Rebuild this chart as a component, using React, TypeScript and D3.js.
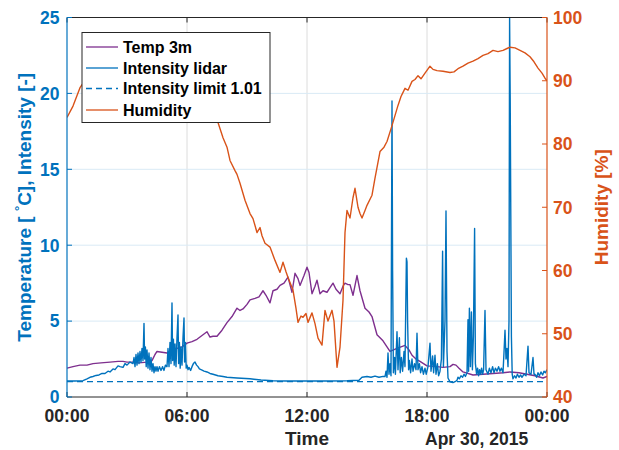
import React from 'react';
import * as d3 from 'd3';

// ---- data (time in hours since 00:00, Apr 29 -> Apr 30, 2015) ----
const xTicks = [0, 6, 12, 18, 24];
const xTickLabels = ['00:00', '06:00', '12:00', '18:00', '00:00'];
const yLeftTicks = [0, 5, 10, 15, 20, 25];
const yRightTicks = [40, 50, 60, 70, 80, 90, 100];
const intensityLimit = 1.01;
const legendLabels = ['Temp 3m', 'Intensity lidar', 'Intensity limit 1.01', 'Humidity'];

const temp3m: [number, number][] = [
  [0, 1.9], [0.3, 2.0], [0.65, 2.1], [1.0, 2.1], [1.3, 2.2], [1.7, 2.25], [2.15, 2.3], [2.55, 2.35],
  [2.8, 2.35], [3.0, 2.3], [3.3, 2.3], [3.6, 2.25], [4.0, 2.3], [4.25, 2.4], [4.4, 2.8], [4.5, 3.0],
  [4.75, 2.95], [5.0, 2.9], [5.25, 3.1], [5.5, 3.2], [5.75, 3.3], [6.0, 3.55], [6.25, 3.65], [6.5, 3.8],
  [6.8, 4.1], [7.0, 4.3], [7.15, 3.95], [7.3, 4.0], [7.5, 4.0], [7.75, 4.4], [8.0, 4.9], [8.25, 5.3],
  [8.5, 5.85], [8.65, 5.7], [8.8, 5.8], [9.0, 6.1], [9.15, 6.4], [9.4, 6.5], [9.6, 6.6], [9.8, 7.0],
  [9.95, 6.7], [10.15, 6.2], [10.3, 7.0], [10.5, 7.1], [10.65, 7.35], [10.85, 7.5], [11.05, 7.9],
  [11.25, 6.9], [11.4, 8.15], [11.55, 7.8], [11.65, 7.35], [11.85, 8.0], [12.0, 8.55], [12.1, 8.2],
  [12.25, 6.8], [12.4, 7.3], [12.5, 7.7], [12.65, 6.8], [12.8, 7.0], [13.0, 6.9], [13.15, 7.2],
  [13.3, 7.5], [13.45, 7.1], [13.65, 6.8], [13.8, 7.3], [13.9, 7.5], [14.05, 7.4], [14.15, 7.4],
  [14.3, 6.7], [14.5, 8.0], [14.65, 7.0], [14.9, 5.85], [15.1, 5.6], [15.25, 5.3], [15.5, 4.1],
  [15.8, 3.7], [16.0, 3.3], [16.15, 3.0], [16.5, 3.2], [16.9, 3.4], [17.1, 3.1], [17.25, 2.75],
  [17.45, 2.5], [17.65, 2.35], [18.0, 2.05], [18.5, 2.0], [18.8, 1.95], [19.15, 2.0], [19.3, 2.15],
  [19.45, 2.1], [19.6, 1.9], [19.8, 1.65], [20.3, 1.45], [20.8, 1.5], [21.3, 1.55], [21.8, 1.6],
  [22.15, 1.65], [22.6, 1.6], [23.0, 1.5], [23.4, 1.4], [23.8, 1.25], [24, 1.35],
];

const intensityLidar: [number, number][] = [
  [0, 1.05], [0.4, 1.05], [0.8, 1.08], [1.0, 1.2], [1.15, 1.3], [1.3, 1.35], [1.45, 1.42], [1.6, 1.45],
  [1.75, 1.55], [1.9, 1.55], [2.05, 1.7], [2.15, 1.65], [2.3, 1.85], [2.4, 1.8], [2.55, 2.05], [2.65, 2.0],
  [2.8, 1.95], [2.9, 2.2], [3.0, 2.1], [3.15, 2.3], [3.3, 2.2], [3.35, 2.6], [3.4, 2.0],
  [3.45, 2.8], [3.5, 2.1], [3.55, 2.9], [3.6, 2.2], [3.65, 3.0], [3.7, 2.3], [3.75, 3.2], [3.8, 2.4],
  [3.85, 4.85], [3.88, 2.5], [3.92, 3.3], [3.96, 2.0], [4.0, 3.1], [4.05, 1.9], [4.1, 2.9], [4.15, 1.8],
  [4.2, 2.6], [4.25, 1.7], [4.3, 2.2], [4.35, 1.6], [4.4, 2.0], [4.45, 1.7], [4.5, 2.0], [4.55, 1.7],
  [4.62, 2.0], [4.7, 1.75], [4.78, 2.0], [4.85, 1.75], [4.92, 2.1], [5.0, 2.0], [5.05, 3.2], [5.1, 2.0],
  [5.15, 3.6], [5.2, 2.2], [5.25, 6.2], [5.28, 2.4], [5.32, 3.8],
  [5.36, 2.1], [5.4, 3.5], [5.45, 2.0], [5.5, 3.9], [5.55, 5.4], [5.58, 2.2], [5.62, 3.6], [5.66, 1.9],
  [5.7, 3.3], [5.75, 2.1], [5.8, 3.9], [5.85, 5.2], [5.88, 2.3], [5.92, 3.6], [5.96, 1.9], [6.0, 2.1],
  [6.05, 1.8], [6.1, 1.95], [6.18, 1.75], [6.25, 2.0], [6.32, 2.2], [6.4, 2.3], [6.48, 2.1], [6.55, 2.0],
  [6.62, 1.85], [6.7, 1.8], [6.78, 1.75], [6.85, 1.7], [7.0, 1.65], [7.15, 1.55], [7.3, 1.5],
  [7.55, 1.4], [7.8, 1.35], [8.0, 1.3], [8.5, 1.25], [9.15, 1.2], [9.7, 1.12], [10.3, 1.07], [11, 1.05],
  [12, 1.05], [13, 1.05], [14, 1.07], [14.6, 1.1], [14.75, 1.3], [15.0, 1.35], [15.2, 1.3], [15.4, 1.38],
  [15.6, 1.3], [15.8, 1.36], [15.9, 1.35],
  [15.95, 1.7], [16.0, 1.3], [16.05, 2.9], [16.1, 1.5], [16.15, 2.2], [16.2, 1.4], [16.25, 19.5],
  [16.28, 8.3], [16.32, 1.6], [16.38, 2.6], [16.42, 1.5], [16.5, 4.3], [16.55, 1.8], [16.62, 3.9],
  [16.66, 1.6], [16.72, 2.6], [16.78, 1.7], [16.85, 3.0], [16.9, 2.0], [16.97, 9.15], [17.0, 8.9],
  [17.03, 5.0], [17.08, 1.8], [17.12, 2.4], [17.18, 1.6], [17.25, 2.5], [17.3, 1.7], [17.38, 2.2],
  [17.45, 1.8], [17.5, 4.2], [17.55, 1.8], [17.62, 2.2], [17.68, 1.6], [17.75, 2.0], [17.82, 1.5],
  [17.9, 1.9], [17.96, 1.5], [18.05, 2.0], [18.15, 3.55], [18.2, 1.7], [18.28, 2.7], [18.33, 1.6],
  [18.4, 2.75], [18.45, 1.5], [18.52, 2.2], [18.58, 1.4], [18.65, 1.7], [18.72, 2.5], [18.78, 9.6],
  [18.82, 2.0], [18.9, 5.0], [18.95, 12.25], [19.0, 3.0], [19.05, 1.25], [19.15, 1.0], [19.3, 0.95],
  [19.45, 1.05], [19.5, 1.1], [19.55, 1.3], [19.62, 1.2], [19.7, 1.4], [19.78, 1.3], [19.85, 1.5],
  [19.92, 1.35], [20.0, 1.6], [20.05, 5.1], [20.08, 1.7],
  [20.12, 5.85], [20.17, 2.0], [20.22, 5.6], [20.27, 1.8], [20.32, 4.0], [20.38, 11.1], [20.42, 2.2],
  [20.48, 1.5], [20.53, 1.9], [20.58, 1.4], [20.63, 1.8], [20.68, 1.5], [20.73, 1.9], [20.78, 1.5],
  [20.83, 1.8], [20.9, 5.7], [20.95, 1.8],
  [21.05, 1.5], [21.12, 1.9], [21.2, 1.6], [21.28, 2.0], [21.35, 1.6], [21.42, 1.9], [21.5, 1.7],
  [21.58, 2.0], [21.65, 1.7], [21.72, 1.9], [21.8, 1.6],
  [21.85, 2.95], [21.9, 4.4], [21.95, 2.5], [22.0, 3.2], [22.05, 2.0], [22.1, 5.0], [22.13, 25],
  [22.16, 19.7], [22.19, 12], [22.22, 4], [22.26, 1.5], [22.3, 1.2], [22.38, 1.4], [22.45, 1.25],
  [22.52, 1.5], [22.6, 1.3], [22.68, 1.45], [22.75, 1.3], [22.85, 1.5], [22.95, 1.4], [23.05, 3.35],
  [23.1, 1.6], [23.2, 1.5], [23.3, 2.6], [23.35, 1.5], [23.4, 1.5], [23.48, 1.3], [23.55, 1.6],
  [23.62, 1.4], [23.7, 1.65], [23.78, 1.45], [23.85, 1.7], [23.92, 1.6], [24, 1.8],
];

const humidity: [number, number][] = [
  [0, 84.2], [0.3, 86], [0.65, 88.9], [1.0, 90.5], [2.0, 92], [3.0, 93], [4.0, 93.5], [5.0, 94],
  [5.8, 94], [6.5, 91.5], [7.0, 88], [7.55, 83.4], [7.8, 81], [8.0, 79.5], [8.15, 77.4], [8.4, 75.8],
  [8.5, 75.2], [8.65, 73.8], [8.9, 71.1], [9.15, 69], [9.3, 68.2], [9.5, 66], [9.65, 66.8], [9.75, 65.5],
  [9.9, 64.3], [10.15, 63.7], [10.4, 61.6], [10.65, 59.7], [10.8, 61.3], [10.95, 59.8], [11.05, 58.9],
  [11.3, 56.9], [11.45, 54], [11.55, 51.8], [11.7, 52.8], [11.8, 52.6], [11.95, 53.2], [12.05, 51.8],
  [12.25, 53.3], [12.4, 51.6], [12.55, 49.3], [12.75, 48.2], [12.9, 53.7], [13.05, 52], [13.25, 53.7],
  [13.35, 52], [13.5, 44.7], [13.65, 47.9], [13.8, 55.3], [13.9, 66], [14.0, 69.5], [14.15, 68.3],
  [14.3, 71.5], [14.4, 73], [14.55, 70], [14.65, 69], [14.75, 68.3], [14.9, 69.5], [15.0, 70.3],
  [15.25, 71.9], [15.4, 74.6], [15.65, 78.8], [15.85, 79.5], [16.0, 80.4], [16.25, 82.9], [16.55, 86.1],
  [16.7, 87.5], [16.9, 88.8], [17.05, 88.5], [17.25, 89.9], [17.4, 90.2], [17.55, 90.8], [17.7, 90.3],
  [17.9, 91.2], [18.15, 92.3], [18.3, 91.8], [18.5, 91.6], [18.8, 91.5], [19.15, 91.3], [19.35, 91.4],
  [19.55, 91.9], [19.8, 92.3], [20.05, 92.8], [20.3, 93.1], [20.55, 93.5], [20.8, 94.0], [21.05, 94.3],
  [21.3, 94.8], [21.55, 94.6], [21.8, 94.8], [22.0, 95.1], [22.15, 95.3], [22.4, 95.2], [22.65, 94.8],
  [22.9, 94.4], [23.15, 93.8], [23.35, 93], [23.55, 92], [23.75, 91.2], [23.9, 90.4], [24, 90],
];

// ---- styling ----
const BLUE = '#0072BD';
const ORANGE = '#D95319';
const PURPLE = '#7E2F8E';
const DARK = '#262626';
const FONT = '"Liberation Sans", Arial, Helvetica, sans-serif';

export default function App() {
  const W = 619, H = 450;
  const left = 67, right = 547, top = 17.5, bottom = 397;

  const x = d3.scaleLinear().domain([0, 24]).range([left, right]);
  const yL = d3.scaleLinear().domain([0, 25]).range([bottom, top]);
  const yR = d3.scaleLinear().domain([40, 100]).range([bottom, top]);

  const lineL = d3.line<[number, number]>().x(d => x(d[0])).y(d => yL(d[1]));
  const lineR = d3.line<[number, number]>().x(d => x(d[0])).y(d => yR(d[1]));

  const legendX = 82, legendY = 32.5, legendW = 188, legendH = 90;
  const rowY = [47, 68, 88.5, 110];
  const legendColors = [PURPLE, BLUE, BLUE, ORANGE];
  const legendDash = [undefined, undefined, '6,4', undefined];

  return (
    <svg width={W} height={H} style={{ position: 'absolute', left: 0, top: 0, background: '#fff' }}
      fontFamily={FONT} fontWeight="bold">
      <defs>
        <clipPath id="plotClip">
          <rect x={left} y={top - 1} width={right - left} height={bottom - top + 1} />
        </clipPath>
      </defs>
      <rect x={0} y={0} width={W} height={H} fill="#fff" />

      {/* grid */}
      {xTicks.slice(1, -1).map((t, i) => (
        <line key={'gx' + i} x1={x(t)} x2={x(t)} y1={top} y2={bottom} stroke="#dcdcdc" strokeWidth={1} />
      ))}
      {yLeftTicks.slice(1, -1).map((t, i) => (
        <line key={'gy' + i} x1={left} x2={right} y1={yL(t)} y2={yL(t)} stroke="#d9eaf5" strokeWidth={1} />
      ))}

      {/* data */}
      <g clipPath="url(#plotClip)" fill="none" strokeLinejoin="round">
        <path d={lineL(temp3m) || ''} stroke={PURPLE} strokeWidth={1.4} />
        <path d={lineL(intensityLidar) || ''} stroke={BLUE} strokeWidth={1.4} />
        <line x1={x(0)} x2={x(24)} y1={yL(intensityLimit)} y2={yL(intensityLimit)}
          stroke={BLUE} strokeWidth={1.3} strokeDasharray="6,4" />
        <path d={lineR(humidity) || ''} stroke={ORANGE} strokeWidth={1.4} />
      </g>

      {/* box: top and bottom */}
      <line x1={left} x2={right} y1={top} y2={top} stroke={DARK} strokeWidth={1} />
      <line x1={left} x2={right} y1={bottom} y2={bottom} stroke={DARK} strokeWidth={1} />
      {xTicks.map((t, i) => (
        <g key={'xt' + i}>
          <line x1={x(t)} x2={x(t)} y1={bottom} y2={bottom - 5} stroke={DARK} />
          <line x1={x(t)} x2={x(t)} y1={top} y2={top + 5} stroke={DARK} />
          <text x={x(t)} y={422} textAnchor="middle" fontSize={17.5} fill={DARK}>{xTickLabels[i]}</text>
        </g>
      ))}

      {/* left axis */}
      <line x1={left} x2={left} y1={top} y2={bottom} stroke={BLUE} strokeWidth={1.2} />
      {yLeftTicks.map((t, i) => (
        <g key={'yl' + i}>
          <line x1={left} x2={left + 5} y1={yL(t)} y2={yL(t)} stroke={BLUE} />
          <text x={59.5} y={yL(t)} dy="0.36em" textAnchor="end" fontSize={17.5} fill={BLUE}>{t}</text>
        </g>
      ))}

      {/* right axis */}
      <line x1={right} x2={right} y1={top} y2={bottom} stroke={ORANGE} strokeWidth={1.2} />
      {yRightTicks.map((t, i) => (
        <g key={'yr' + i}>
          <line x1={right} x2={right - 5} y1={yR(t)} y2={yR(t)} stroke={ORANGE} />
          <text x={553} y={yR(t)} dy="0.36em" textAnchor="start" fontSize={17.5} fill={ORANGE}>{t}</text>
        </g>
      ))}

      {/* axis labels */}
      <text transform={`translate(31,${(top + bottom) / 2}) rotate(-90)`} textAnchor="middle" fontSize={19} fill={BLUE}>
        Temperature [ <tspan dy={-7} fontSize={13}>°</tspan><tspan dy={7}>C], Intensity [-]</tspan>
      </text>
      <text transform={`translate(608,${(top + bottom) / 2}) rotate(-90)`} textAnchor="middle" fontSize={19} fill={ORANGE}>
        Humidity [%]
      </text>
      <text x={(left + right) / 2} y={445} textAnchor="middle" fontSize={19} fill={DARK}>Time</text>
      <text x={425} y={445} textAnchor="start" fontSize={17.5} fill={DARK}>Apr 30, 2015</text>

      {/* legend */}
      <rect x={legendX} y={legendY} width={legendW} height={legendH} fill="#fff" stroke={DARK} strokeWidth={1} />
      {legendLabels.map((lab, i) => (
        <g key={'lg' + i}>
          <line x1={86} x2={118} y1={rowY[i]} y2={rowY[i]} stroke={legendColors[i]} strokeWidth={1.3}
            strokeDasharray={legendDash[i]} />
          <text x={123} y={rowY[i]} dy="0.36em" fontSize={16} fill="#000">{lab}</text>
        </g>
      ))}
    </svg>
  );
}
